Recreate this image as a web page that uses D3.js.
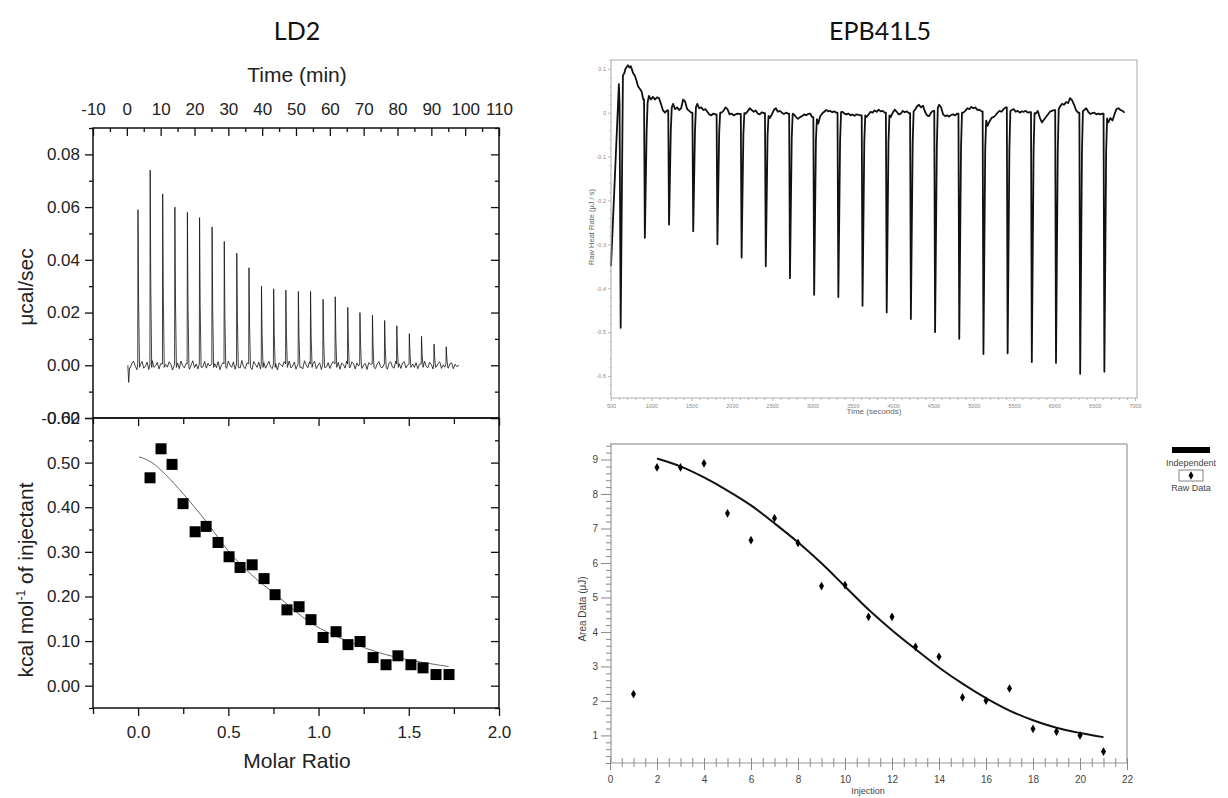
<!DOCTYPE html>
<html>
<head>
<meta charset="utf-8">
<script src="https://cdn.jsdelivr.net/npm/d3@7"></script>
<style>
  body { margin: 0; background: #fff; }
  svg { display: block; }
</style>
</head>
<body>
<div id="chart"></div>
<script>
// ---------- LD2 : raw ITC trace (top left) ----------
var ld2InjTimes = [3.3, 6.9, 10.6, 14.2, 17.9, 21.5, 25.2, 28.8, 32.5, 36.1, 39.8, 43.4, 47.0,
  50.7, 54.3, 58.0, 61.6, 65.3, 68.9, 72.6, 76.2, 79.8, 83.5, 87.1, 90.8, 94.4];
var ld2Peaks = [0.059, 0.074, 0.065, 0.060, 0.058, 0.056, 0.0525, 0.047, 0.0425, 0.037, 0.030, 0.029, 0.0285,
  0.028, 0.028, 0.025, 0.026, 0.022, 0.020, 0.019, 0.017, 0.015, 0.012, 0.011, 0.008, 0.007];
var ld2Start = [[0.3, 0.0], [0.55, -0.0065], [0.8, -0.001]];
var ld2End = [[98.2, 0.0]];
// baseline noise, 1e-3 ucal/sec, one reading every half minute from 1.0 min
var ld2Noise = [
  -1.0, 0.8, 1.6, -0.4, -1.7, 0.9, 0.2, 1.4, -1.1, -0.3,
  1.2, -1.6, 0.5, 1.8, -0.8, -0.2, 1.1, -1.4, 0.6, 1.5,
  -1.2, 0.3, -0.7, 1.3, 0.4, -1.8, 1.0, -0.5, 0.9, -1.3,
  1.6, -0.2, -1.0, 0.7, 1.2, -1.5, 0.1, 1.7, -0.9, 0.5,
  -1.4, 1.1, 0.3, -0.6, 1.5, -1.1, 0.8, -0.3, -1.6, 1.2,
  0.6, -0.9, 1.4, -1.7, 0.2, 1.0, -0.4, -1.2, 1.6, 0.1,
  -0.8, 1.3, -1.5, 0.7, 0.4, -1.0, 1.8, -0.6, -1.3, 0.9,
  1.1, -0.2, -1.6, 1.4, 0.3, -0.8, 1.2, -1.4, 0.5, 1.0,
  -1.1, 0.2, 1.5, -0.7, -1.3, 1.1, 0.6, -1.8, 0.9, 0.3,
  -0.5, 1.4, -1.2, 0.8, 1.6, -1.0, -0.3, 1.2, -1.5, 0.4,
  1.0, -0.6, -1.4, 1.7, 0.2, -0.9, 1.3, -1.1, 0.6, 1.5,
  -1.3, 0.1, 0.9, -1.6, 1.2, 0.4, -0.7, 1.0, -1.2, 0.5,
  1.4, -1.0, -0.2, 1.1, -1.5, 0.8, 0.3, -1.1, 1.6, -0.4,
  -0.9, 1.3, 0.6, -1.4, 0.9, -0.3, 1.5, -1.2, 0.2, 0.7,
  -1.6, 1.0, 0.4, -0.8, 1.2, -1.3, 0.5, 1.4, -0.6, -1.0,
  1.1, 0.3, -1.5, 0.8, 1.3, -0.7, -1.1, 1.6, -0.2, 0.6,
  -1.2, 0.9, 1.4, -1.0, 0.1, -1.4, 1.2, 0.5, -0.8, 1.0,
  -1.3, 0.4, 0.8, -1.1, 1.5, -0.5, -0.9, 1.1, 0.3, -1.4,
  1.2, -0.6, 0.7, 1.3, -1.2, 0.2, -0.7, 1.0, -1.1, 0.6,
  0.9, -1.3, 0.4, -0.5];
var timeTicks = [-10, 0, 10, 20, 30, 40, 50, 60, 70, 80, 90, 100, 110];
var timeMinor = [-5, 5, 15, 25, 35, 45, 55, 65, 75, 85, 95, 105];
var rateTicks = [-0.02, 0.00, 0.02, 0.04, 0.06, 0.08];
var rateMinor = [-0.01, 0.01, 0.03, 0.05, 0.07, 0.09];

// ---------- LD2 : integrated heats (bottom left) ----------
var ld2Ratio = [0.066, 0.127, 0.188, 0.249, 0.316, 0.377, 0.443, 0.504, 0.565, 0.632, 0.698, 0.759, 0.825,
  0.892, 0.958, 1.025, 1.097, 1.163, 1.230, 1.302, 1.374, 1.440, 1.512, 1.579, 1.651, 1.723];
var ld2Heat = [0.466, 0.531, 0.496, 0.408, 0.345, 0.357, 0.321, 0.289, 0.265, 0.271, 0.240, 0.204, 0.170,
  0.177, 0.148, 0.108, 0.121, 0.092, 0.099, 0.063, 0.047, 0.067, 0.047, 0.040, 0.025, 0.025];
var ld2FitRatio = [0.005, 0.077, 0.15, 0.25, 0.377, 0.504, 0.63, 0.76, 0.96, 1.16, 1.37, 1.58, 1.72];
var ld2FitHeat = [0.513, 0.500, 0.474, 0.430, 0.368, 0.300, 0.248, 0.205, 0.140, 0.100, 0.070, 0.052, 0.043];
var ratioTicks = [0.0, 0.5, 1.0, 1.5, 2.0];
var ratioMinor = [-0.25, 0.25, 0.75, 1.25, 1.75];
var heatTicks = [0.00, 0.10, 0.20, 0.30, 0.40, 0.50, 0.60];
var heatMinor = [-0.05, 0.05, 0.15, 0.25, 0.35, 0.45, 0.55];

// ---------- EPB41L5 : raw heat rate (top right) ----------
var epbInjTimes = [620, 920, 1220, 1520, 1820, 2120, 2420, 2720, 3020, 3320, 3620, 3920, 4220, 4520,
  4820, 5120, 5420, 5720, 6020, 6320, 6620];
var epbDepths = [-0.49, -0.285, -0.255, -0.27, -0.30, -0.33, -0.35, -0.377, -0.415, -0.42, -0.44, -0.455,
  -0.47, -0.50, -0.515, -0.55, -0.548, -0.568, -0.57, -0.595, -0.59];
var epbLead = [[500, -0.35], [598, 0.065], [606, 0.02]];
var epbHump = [[648, 0.085], [665, 0.09], [680, 0.10], [695, 0.104], [710, 0.108], [728, 0.103],
  [745, 0.106], [760, 0.098], [775, 0.09], [790, 0.086], [800, 0.082], [818, 0.072], [835, 0.06],
  [855, 0.055], [880, 0.048], [900, 0.03]];
// baseline readings every 25 s from 50 s after injections 2..21
var epbBaseline = [
  [0.038, 0.03, 0.036, 0.03, 0.035, 0.033, 0.02, 0.005, 0.0, 0.005],
  [0.02, 0.008, 0.012, 0.006, 0.01, 0.03, 0.025, 0.008, 0.004, 0.0],
  [0.02, 0.01, 0.012, 0.006, 0.008, 0.002, -0.004, -0.006, -0.002, -0.004],
  [0.0, 0.004, 0.012, 0.008, -0.004, -0.002, -0.006, -0.004, -0.002, -0.003],
  [-0.002, 0.003, 0.01, 0.006, 0.002, 0.005, -0.002, -0.004, 0.001, -0.001],
  [-0.012, -0.004, 0.006, 0.01, 0.002, 0.004, 0.0, -0.003, 0.0, -0.002],
  [-0.004, -0.01, -0.014, -0.01, -0.008, -0.004, -0.006, -0.003, -0.002, -0.01],
  [-0.025, -0.008, -0.002, 0.002, 0.006, 0.003, 0.004, 0.001, 0.003, 0.0],
  [0.002, -0.002, -0.004, -0.002, -0.006, -0.004, -0.007, -0.004, -0.005, -0.006],
  [-0.01, -0.004, 0.002, 0.0, 0.005, 0.002, 0.007, 0.003, 0.004, 0.0],
  [-0.01, 0.0, 0.007, 0.002, -0.004, -0.002, 0.004, 0.001, 0.003, -0.001],
  [0.006, 0.014, 0.018, 0.012, 0.016, 0.002, -0.006, -0.008, 0.0, 0.004],
  [0.018, 0.012, -0.004, -0.008, -0.006, -0.009, -0.005, -0.004, -0.006, -0.002],
  [0.0, 0.004, 0.01, 0.008, 0.013, 0.01, 0.012, 0.006, 0.007, 0.003],
  [-0.03, -0.02, -0.012, -0.01, -0.006, 0.0, 0.004, 0.002, 0.008, 0.012],
  [0.006, 0.008, 0.002, 0.004, 0.0, 0.003, 0.002, 0.004, 0.0, 0.001],
  [-0.002, 0.004, -0.012, -0.022, -0.016, -0.01, -0.004, 0.002, 0.004, 0.006],
  [0.014, 0.02, 0.018, 0.024, 0.022, 0.033, 0.028, 0.018, 0.005, 0.0],
  [0.006, 0.01, 0.002, -0.003, -0.001, 0.0, -0.004, -0.002, -0.004, -0.002],
  [-0.022, -0.012, -0.018, -0.004, 0.008, 0.01, 0.006, 0.004, 0.0]];
var secTicks = [500, 1000, 1500, 2000, 2500, 3000, 3500, 4000, 4500, 5000, 5500, 6000, 6500, 7000];
var rawTicks = [-0.6, -0.5, -0.4, -0.3, -0.2, -0.1, 0, 0.1];

// ---------- EPB41L5 : integrated areas (bottom right) ----------
var areaInj = [1, 2, 3, 4, 5, 6, 7, 8, 9, 10, 11, 12, 13, 14, 15, 16, 17, 18, 19, 20, 21];
var areaRaw = [2.2, 8.77, 8.77, 8.89, 7.44, 6.66, 7.30, 6.58, 5.33, 5.36, 4.44, 4.44, 3.57, 3.28, 2.10,
  2.01, 2.36, 1.19, 1.11, 1.00, 0.53];
var fitInj = [2, 3, 4, 5, 6, 7, 8, 9, 10, 11, 12, 13, 14, 15, 16, 17, 18, 19, 20, 21];
var fitArea = [9.03, 8.80, 8.48, 8.10, 7.67, 7.15, 6.60, 5.99, 5.32, 4.65, 4.05, 3.50, 2.97, 2.50, 2.08,
  1.72, 1.44, 1.22, 1.07, 0.95];
var injTicks = [0, 2, 4, 6, 8, 10, 12, 14, 16, 18, 20, 22];
var areaTicks = [1, 2, 3, 4, 5, 6, 7, 8, 9];

var W = 1228, H = 798;
var ARIAL = "'Liberation Sans', Arial, sans-serif";
var svg = d3.select('#chart').append('svg')
  .attr('width', W).attr('height', H)
  .style('font-family', ARIAL);
svg.append('rect').attr('width', W).attr('height', H).attr('fill', '#fff');

// plain hyphen instead of the unicode minus d3.format gives
function fmt(spec) {
  var f = d3.format(spec);
  return function (d) { return f(d).replace('\u2212', '-'); };
}
// draws one set of ticks, drops the domain line (frames are drawn separately)
function ticks(g, gen, values, size, pad, format) {
  g.call(gen.tickValues(values).tickSize(size).tickSizeOuter(0).tickPadding(pad)
    .tickFormat(format || function () { return ''; }));
  g.select('.domain').remove();
  return g;
}
function minorRange(a, b, step, skip) {
  var out = [];
  for (var v = a; v <= b + 1e-9; v += step) {
    var r = Math.round(v * 1000) / 1000;
    if (Math.abs(r / skip - Math.round(r / skip)) > 1e-6) out.push(r);
  }
  return out;
}

// ================= LD2 =================
var xTime = d3.scaleLinear().domain([-10, 110]).range([93, 499]);
var yRate = d3.scaleLinear().domain([-0.02, 0.09]).range([418, 128]);
var xRatio = d3.scaleLinear().domain([-0.25, 2.0]).range([93, 499]);
var yHeat = d3.scaleLinear().domain([-0.05, 0.60]).range([708, 418]);

var ld2 = svg.append('g').attr('font-size', 17).attr('fill', '#222');

// trace: baseline + injection spikes
var tracePts = ld2Start.slice();
ld2Noise.forEach(function (v, i) {
  var t = 1.0 + 0.5 * i;
  var near = ld2InjTimes.some(function (s) { return t > s - 0.25 && t < s + 0.55; });
  if (!near) tracePts.push([t, v / 1000]);
});
ld2InjTimes.forEach(function (t, i) {
  tracePts.push([t - 0.08, 0.0005], [t, ld2Peaks[i]], [t + 0.18, ld2Peaks[i] * 0.4], [t + 0.45, -0.0008]);
});
tracePts = tracePts.concat(ld2End);
tracePts.sort(function (a, b) { return a[0] - b[0]; });
ld2.append('path')
  .datum(tracePts)
  .attr('fill', 'none').attr('stroke', '#111').attr('stroke-width', 0.8)
  .attr('d', d3.line().x(function (d) { return xTime(d[0]); }).y(function (d) { return yRate(d[1]); }));

// top panel axes
ticks(ld2.append('g').attr('transform', 'translate(0,128)'), d3.axisTop(xTime), timeTicks, -8, 13, fmt('d'));
ticks(ld2.append('g').attr('transform', 'translate(0,128)'), d3.axisTop(xTime), timeMinor, -4, 0);
ticks(ld2.append('g').attr('transform', 'translate(93,0)'), d3.axisLeft(yRate), rateTicks, 8, 5, fmt('.2f'));
ticks(ld2.append('g').attr('transform', 'translate(93,0)'), d3.axisLeft(yRate), rateMinor, 4, 0);
ticks(ld2.append('g').attr('transform', 'translate(499,0)'), d3.axisRight(yRate), rateTicks, -8, 0);
ticks(ld2.append('g').attr('transform', 'translate(499,0)'), d3.axisRight(yRate), rateMinor, -4, 0);

// bottom panel: fit + squares
ld2.append('path')
  .datum(ld2FitRatio.map(function (r, i) { return [r, ld2FitHeat[i]]; }))
  .attr('fill', 'none').attr('stroke', '#666').attr('stroke-width', 1)
  .attr('d', d3.line().curve(d3.curveMonotoneX)
    .x(function (d) { return xRatio(d[0]); }).y(function (d) { return yHeat(d[1]); }));
ld2.append('g').selectAll('rect')
  .data(ld2Ratio)
  .join('rect')
  .attr('x', function (d) { return xRatio(d) - 5.5; })
  .attr('y', function (d, i) { return yHeat(ld2Heat[i]) - 5.5; })
  .attr('width', 11).attr('height', 11)
  .attr('fill', '#000');

ticks(ld2.append('g').attr('transform', 'translate(0,708)'), d3.axisBottom(xRatio), ratioTicks, 8, 10, fmt('.1f'));
ticks(ld2.append('g').attr('transform', 'translate(0,708)'), d3.axisBottom(xRatio), ratioMinor, 6, 0);
ticks(ld2.append('g').attr('transform', 'translate(0,418)'), d3.axisTop(xRatio), ratioTicks, -8, 0);
ticks(ld2.append('g').attr('transform', 'translate(0,418)'), d3.axisTop(xRatio), ratioMinor, -6, 0);
ticks(ld2.append('g').attr('transform', 'translate(93,0)'), d3.axisLeft(yHeat), heatTicks, 8, 5, fmt('.2f'));
ticks(ld2.append('g').attr('transform', 'translate(93,0)'), d3.axisLeft(yHeat), heatMinor, 4, 0);
ticks(ld2.append('g').attr('transform', 'translate(499,0)'), d3.axisRight(yHeat), heatTicks, -8, 0);
ticks(ld2.append('g').attr('transform', 'translate(499,0)'), d3.axisRight(yHeat), heatMinor, -4, 0);

ld2.selectAll('.tick line').attr('stroke', '#111').attr('stroke-width', 1.3);
ld2.selectAll('.tick text').attr('fill', '#222').attr('font-size', 17).attr('font-family', ARIAL);

// frames
[[128, 418], [418, 708]].forEach(function (p) {
  ld2.append('rect')
    .attr('x', 93).attr('y', p[0]).attr('width', 406).attr('height', p[1] - p[0])
    .attr('fill', 'none').attr('stroke', '#111').attr('stroke-width', 1.5);
});

// labels
svg.append('text').attr('x', 297).attr('y', 40).attr('text-anchor', 'middle')
  .attr('font-family', 'Lato, sans-serif').attr('font-size', 25).attr('fill', '#111').text('LD2');
svg.append('text').attr('x', 880).attr('y', 40).attr('text-anchor', 'middle')
  .attr('font-family', 'Lato, sans-serif').attr('font-size', 25).attr('fill', '#111').text('EPB41L5');
ld2.append('text').attr('x', 297).attr('y', 82).attr('text-anchor', 'middle')
  .attr('font-size', 21).text('Time (min)');
ld2.append('text').attr('x', 297).attr('y', 768).attr('text-anchor', 'middle')
  .attr('font-size', 21).text('Molar Ratio');
ld2.append('text').attr('transform', 'translate(33,287) rotate(-90)').attr('text-anchor', 'middle')
  .attr('font-size', 21).text('\u03bccal/sec');
var kcal = ld2.append('text').attr('transform', 'translate(33,580) rotate(-90)').attr('text-anchor', 'middle')
  .attr('font-size', 21);
kcal.append('tspan').text('kcal mol');
kcal.append('tspan').attr('dy', -8).attr('font-size', 12).text('-1');
kcal.append('tspan').attr('dy', 8).text(' of injectant');

// ================= EPB41L5 raw =================
var xSec = d3.scaleLinear().domain([500, 7000]).range([611, 1135]);
var yRaw = d3.scaleLinear().domain([-0.65, 0.12]).range([398, 60]);
var epb = svg.append('g');

var rawPts = epbLead.concat([[epbInjTimes[0], epbDepths[0]]], epbHump);
epbInjTimes.slice(1).forEach(function (t, k) {
  var prev = rawPts[rawPts.length - 1][1];
  var base = epbBaseline[k];
  rawPts.push([t - 10, prev], [t, epbDepths[k + 1]], [t + 22, epbDepths[k + 1] * 0.15], [t + 34, base[0] * 0.6]);
  base.forEach(function (v, j) { rawPts.push([t + 50 + 25 * j, v]); });
});

epb.append('path')
  .datum(rawPts)
  .attr('fill', 'none').attr('stroke', '#111').attr('stroke-width', 1.8).attr('stroke-linejoin', 'round')
  .attr('d', d3.line().x(function (d) { return xSec(d[0]); }).y(function (d) { return yRaw(d[1]); }));

ticks(epb.append('g').attr('transform', 'translate(611,0)'), d3.axisLeft(yRaw), rawTicks, 3, 2,
  function (d) { return d === 0 ? '0' : fmt('.1f')(d); });
ticks(epb.append('g').attr('transform', 'translate(611,0)'), d3.axisLeft(yRaw), minorRange(-0.64, 0.12, 0.02, 0.1), 1.5, 0);
ticks(epb.append('g').attr('transform', 'translate(0,398)'), d3.axisBottom(xSec), secTicks, 3, 3, fmt('d'));
ticks(epb.append('g').attr('transform', 'translate(0,398)'), d3.axisBottom(xSec), minorRange(500, 7000, 100, 500), 2, 0);
epb.selectAll('.tick line').attr('stroke', '#999').attr('stroke-width', 0.7);
epb.selectAll('.tick text').attr('fill', '#888').attr('font-size', 5.5).attr('font-family', ARIAL);
epb.append('rect').attr('x', 611).attr('y', 60).attr('width', 526).attr('height', 338)
  .attr('fill', 'none').attr('stroke', '#aaa').attr('stroke-width', 1);
epb.append('text').attr('x', 874).attr('y', 414).attr('text-anchor', 'middle')
  .attr('font-size', 8).attr('fill', '#666').text('Time (seconds)');
epb.append('text').attr('transform', 'translate(594,227) rotate(-90)').attr('text-anchor', 'middle')
  .attr('font-size', 7.5).attr('fill', '#666').text('Raw Heat Rate (\u03bcJ / s)');

// ================= EPB41L5 areas =================
var xInj = d3.scaleLinear().domain([0, 22]).range([610, 1127]);
var yArea = d3.scaleLinear().domain([0.2, 9.45]).range([763, 444]);
var area = svg.append('g');

area.append('line').attr('x1', 610).attr('x2', 1127).attr('y1', 444).attr('y2', 444)
  .attr('stroke', '#aaa').attr('stroke-width', 1.5);
area.append('line').attr('x1', 1127).attr('x2', 1127).attr('y1', 444).attr('y2', 763)
  .attr('stroke', '#aaa').attr('stroke-width', 1.5);
area.append('line').attr('x1', 611).attr('x2', 611).attr('y1', 444).attr('y2', 763)
  .attr('stroke', '#999').attr('stroke-width', 1.2);
area.append('line').attr('x1', 611).attr('x2', 1127).attr('y1', 763).attr('y2', 763)
  .attr('stroke', '#999').attr('stroke-width', 1.2);

ticks(area.append('g').attr('transform', 'translate(611,0)'), d3.axisLeft(yArea), areaTicks, 10, 3, fmt('d'));
ticks(area.append('g').attr('transform', 'translate(611,0)'), d3.axisLeft(yArea), minorRange(0.2, 9.4, 0.2, 1), 5, 0);
ticks(area.append('g').attr('transform', 'translate(0,763)'), d3.axisBottom(xInj), injTicks, 7, 6, fmt('d'));
ticks(area.append('g').attr('transform', 'translate(0,763)'), d3.axisBottom(xInj), minorRange(0.5, 21.5, 0.5, 2), 4, 0);
area.selectAll('.tick line').attr('stroke', '#888').attr('stroke-width', 1).attr('y1', function () {
  return d3.select(this).attr('y2') ? -5 : null;
});
area.selectAll('.tick text').attr('fill', '#444').attr('font-size', 10).attr('font-family', ARIAL);

area.append('path')
  .datum(fitInj.map(function (x, i) { return [x, fitArea[i]]; }))
  .attr('fill', 'none').attr('stroke', '#111').attr('stroke-width', 2)
  .attr('d', d3.line().curve(d3.curveMonotoneX)
    .x(function (d) { return xInj(d[0]); }).y(function (d) { return yArea(d[1]); }));
area.append('g').selectAll('path')
  .data(areaInj)
  .join('path')
  .attr('transform', function (d, i) { return 'translate(' + xInj(d) + ',' + yArea(areaRaw[i]) + ')'; })
  .attr('d', d3.symbol(d3.symbolDiamond).size(22))
  .attr('fill', '#000');

area.append('text').attr('x', 868).attr('y', 794).attr('text-anchor', 'middle')
  .attr('font-size', 9).attr('fill', '#444').text('Injection');
area.append('text').attr('transform', 'translate(586,609) rotate(-90)').attr('text-anchor', 'middle')
  .attr('font-size', 10).attr('fill', '#444').text('Area Data (\u03bcJ)');

// legend
var lg = svg.append('g').attr('font-size', 9).attr('fill', '#444');
lg.append('rect').attr('x', 1172).attr('y', 447).attr('width', 38).attr('height', 6).attr('fill', '#000');
lg.append('text').attr('x', 1191).attr('y', 466).attr('text-anchor', 'middle').text('Independent');
lg.append('rect').attr('x', 1179).attr('y', 470).attr('width', 24).attr('height', 11)
  .attr('fill', '#fff').attr('stroke', '#666').attr('stroke-width', 0.8);
lg.append('path').attr('transform', 'translate(1191,475.5)').attr('d', d3.symbol(d3.symbolDiamond).size(20)).attr('fill', '#000');
lg.append('text').attr('x', 1191).attr('y', 491).attr('text-anchor', 'middle').text('Raw Data');
</script>
</body>
</html>
